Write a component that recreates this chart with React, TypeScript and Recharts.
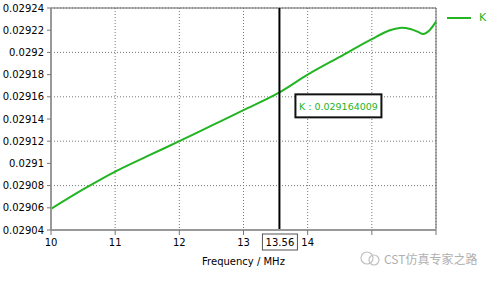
import React from 'react';
import {
  LineChart,
  Line,
  XAxis,
  YAxis,
  CartesianGrid,
  ReferenceLine,
  ReferenceDot,
  Legend
} from 'recharts';

const frequency = [10, 10.5, 11, 11.5, 12, 12.5, 13, 13.56, 14, 14.5, 15, 15.28, 15.47, 15.6, 15.72, 15.8, 15.9, 16];
const kValues = [
  0.029059, 0.0290765, 0.0290926, 0.0291065, 0.02912, 0.029134, 0.029148, 0.029164, 0.02918,
  0.029196, 0.029212, 0.02922, 0.0292223, 0.029221, 0.0292185, 0.0292166, 0.02922, 0.0292277
];
const xTicks = [10, 11, 12, 13, 14, 15, 16];
const yTicks = [0.02904, 0.02906, 0.02908, 0.0291, 0.02912, 0.02914, 0.02916, 0.02918, 0.0292, 0.02922, 0.02924];
const cursorFreq = 13.56;
const cursorValue = 0.029164009;

const GREEN = '#22b422';
const FONT = '"DejaVu Sans", Verdana, sans-serif';

const chartData = frequency.map((f, i) => ({ f, k: kValues[i] }));

const fmtY = (v: number) => v.toFixed(5).replace(/0+$/, '');

const CursorBox = (props: any) => {
  const { viewBox } = props;
  const x = viewBox.x;
  const y = viewBox.y + viewBox.height;
  return (
    <g>
      <rect x={x - 17} y={y + 4} width={35} height={16} fill="#fff" stroke="#555" strokeWidth={1} />
      <text x={x + 0.5} y={y + 16} textAnchor="middle" fontSize={10} fontFamily={FONT} fill="#000">
        {cursorFreq}
      </text>
    </g>
  );
};

const ValueBox = (props: any) => {
  const { viewBox } = props;
  const cx = viewBox.x + viewBox.width / 2;
  const cy = viewBox.y + viewBox.height / 2;
  return (
    <g>
      <rect x={cx + 16} y={cy + 2} width={86} height={23} fill="#fff" stroke="#111" strokeWidth={2} />
      <text x={cx + 59} y={cy + 17.5} textAnchor="middle" fontSize={9.5} fontFamily={FONT} fill={GREEN}>
        {`K : ${cursorValue}`}
      </text>
    </g>
  );
};

const LegendBox = () => (
  <div style={{ display: 'flex', alignItems: 'center', fontFamily: FONT, fontSize: 11, color: GREEN }}>
    <svg width={26} height={10}>
      <line x1={0} y1={5} x2={24} y2={5} stroke={GREEN} strokeWidth={2} />
    </svg>
    <span style={{ marginLeft: 6 }}>K</span>
  </div>
);

export default function App() {
  return (
    <div style={{ position: 'fixed', left: 0, top: 0, width: 493, height: 281, background: '#fff' }}>
      <LineChart width={493} height={281} data={chartData} margin={{ top: 8, right: 57, left: 0, bottom: 0 }}>
        <CartesianGrid stroke="#777" strokeDasharray="1 2" />
        <XAxis
          dataKey="f"
          type="number"
          domain={[10, 16]}
          ticks={xTicks}
          tickFormatter={(v: number) => (v >= 15 ? '' : String(v))}
          tick={{ fontSize: 10, fontFamily: FONT, fill: '#000' }}
          tickSize={5}
          tickMargin={4}
          height={38}
          axisLine={{ stroke: '#999', strokeWidth: 2 }}
          tickLine={{ stroke: '#777' }}
          label={{ value: 'Frequency / MHz', position: 'insideBottom', offset: 3, fontSize: 10, fontFamily: FONT, fill: '#000' }}
        />
        <YAxis
          type="number"
          domain={[0.02904, 0.02924]}
          ticks={yTicks}
          tickFormatter={fmtY}
          tick={{ fontSize: 10, fontFamily: FONT, fill: '#000' }}
          tickSize={4}
          tickMargin={3}
          width={51}
          axisLine={{ stroke: '#999', strokeWidth: 2 }}
          tickLine={{ stroke: '#777' }}
          allowDataOverflow
        />
        <ReferenceLine y={0.02924} stroke="#666" strokeWidth={1} />
        <ReferenceLine x={16} stroke="#666" strokeWidth={1} />
        <Legend
          content={<LegendBox />}
          wrapperStyle={{ position: 'absolute', left: 447, top: 11, width: 46 }}
        />
        <Line
          type="monotone"
          dataKey="k"
          stroke={GREEN}
          strokeWidth={2}
          dot={false}
          isAnimationActive={false}
        />
        <ReferenceLine x={cursorFreq} stroke="#000" strokeWidth={2} label={<CursorBox />} />
        <ReferenceDot x={cursorFreq} y={cursorValue} r={1} fill="none" stroke="none" label={<ValueBox />} />
      </LineChart>
      <div
        style={{
          position: 'absolute',
          left: 358,
          top: 249,
          display: 'flex',
          alignItems: 'center',
          color: '#b0b0b0',
          fontFamily: '"Noto Sans CJK SC", sans-serif',
          fontSize: 12
        }}
      >
        <svg width={24} height={18}>
          <circle cx={9} cy={9} r={6} fill="none" stroke="#c0c0c0" strokeWidth={1.2} />
          <circle cx={16} cy={11} r={5} fill="none" stroke="#c0c0c0" strokeWidth={1.2} />
        </svg>
        <span style={{ marginLeft: 2 }}>CST仿真专家之路</span>
      </div>
    </div>
  );
}
